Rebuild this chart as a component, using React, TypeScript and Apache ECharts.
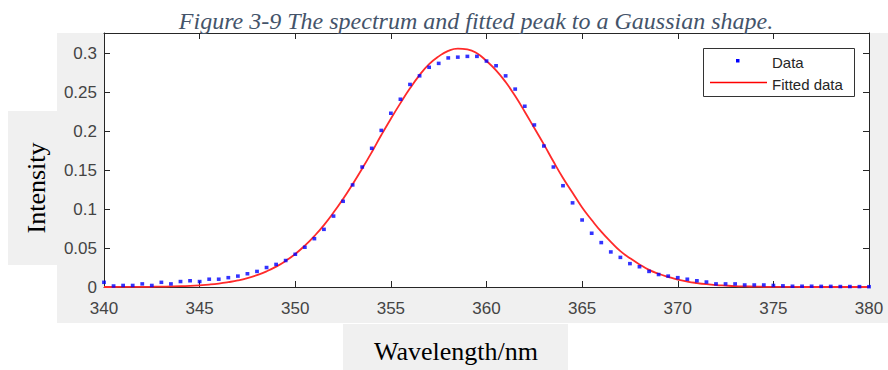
import React, { useEffect, useRef } from "react";
import * as echarts from "echarts";

const wavelengths = [
  340, 340.5, 341, 341.5, 342, 342.5, 343, 343.5, 344, 344.5,
  345, 345.5, 346, 346.5, 347, 347.5, 348, 348.5, 349, 349.5,
  350, 350.5, 351, 351.5, 352, 352.5, 353, 353.5, 354, 354.5,
  355, 355.5, 356, 356.5, 357, 357.5, 358, 358.5, 359, 359.5,
  360, 360.5, 361, 361.5, 362, 362.5, 363, 363.5, 364, 364.5,
  365, 365.5, 366, 366.5, 367, 367.5, 368, 368.5, 369, 369.5,
  370, 370.5, 371, 371.5, 372, 372.5, 373, 373.5, 374, 374.5,
  375, 375.5, 376, 376.5, 377, 377.5, 378, 378.5, 379, 379.5, 380,
];

const measured = [
  0.006, 0.0013, 0.002, 0.002, 0.004, 0.002, 0.006, 0.004, 0.007, 0.008,
  0.007, 0.01, 0.01, 0.012, 0.014, 0.017, 0.02, 0.025, 0.029, 0.034,
  0.042, 0.051, 0.062, 0.074, 0.091, 0.11, 0.131, 0.154, 0.178, 0.201,
  0.223, 0.241, 0.26, 0.271, 0.282, 0.287, 0.294, 0.295, 0.296, 0.296,
  0.29, 0.284, 0.271, 0.254, 0.232, 0.208, 0.181, 0.154, 0.13, 0.108,
  0.086, 0.069, 0.057, 0.045, 0.038, 0.03, 0.026, 0.02, 0.016, 0.014,
  0.012, 0.01, 0.008, 0.0064, 0.004, 0.004, 0.004, 0.0026, 0.0026, 0.0026,
  0.002, 0.0015, 0.001, 0.001, 0.001, 0.0008, 0.0008, 0.0006, 0.0006, 0.0005, 0.0004,
];

const fitted = [
  0.0, 0.0, 0.0001, 0.0001, 0.0002, 0.0003, 0.0005, 0.0007, 0.001, 0.0015,
  0.0022, 0.0031, 0.0044, 0.0062, 0.0084, 0.0114, 0.0153, 0.0201, 0.0261, 0.0335,
  0.0424, 0.053, 0.0654, 0.0795, 0.0955, 0.113, 0.132, 0.152, 0.173, 0.195,
  0.216, 0.236, 0.255, 0.272, 0.286, 0.296, 0.303, 0.306, 0.305, 0.3,
  0.29, 0.278, 0.263, 0.245, 0.225, 0.204, 0.183, 0.161, 0.14, 0.121,
  0.102, 0.086, 0.071, 0.058, 0.046, 0.037, 0.029, 0.022, 0.017, 0.013,
  0.0095, 0.007, 0.0051, 0.0036, 0.0025, 0.0018, 0.0012, 0.0008, 0.0005, 0.0003,
  0.0002, 0.0001, 0.0001, 0.0, 0.0, 0.0, 0.0, 0.0, 0.0, 0.0, 0.0,
];

const TITLE = "Figure 3-9 The spectrum and fitted peak to a Gaussian shape.";
const X_NAME = "Wavelength/nm";
const Y_NAME = "Intensity";
const LEGEND_NAMES = ["Data", "Fitted data"];

const AXIS_COLOR = "#262626";
const LABEL_COLOR = "#444444";
const GRAY = "#f0f0f0";
const SANS = "'Liberation Sans', Arial, Helvetica, sans-serif";
const SERIF = "'Liberation Serif', 'Times New Roman', serif";

export default function App() {
  const ref = useRef<HTMLDivElement>(null);

  useEffect(() => {
    if (!ref.current) return;
    const chart = echarts.init(ref.current, null, { renderer: "svg" });

    const left = 104;
    const top = 33;
    const width = 765;
    const height = 254;

    const xCommon = {
      type: "value",
      min: 340,
      max: 380,
      interval: 5,
      splitLine: { show: false },
      axisLine: { show: true, onZero: false, lineStyle: { color: AXIS_COLOR, width: 1 } },
      axisTick: { show: true, inside: true, length: 6, lineStyle: { color: AXIS_COLOR } },
    };
    const yCommon = {
      type: "value",
      min: 0,
      max: 0.326,
      interval: 0.05,
      splitLine: { show: false },
      axisLine: { show: true, onZero: false, lineStyle: { color: AXIS_COLOR, width: 1 } },
      axisTick: { show: true, inside: true, length: 6, lineStyle: { color: AXIS_COLOR } },
    };

    chart.setOption({
      animation: false,
      backgroundColor: "#ffffff",
      grid: {
        left,
        top,
        width,
        height,
        show: true,
        backgroundColor: "#ffffff",
        borderWidth: 0,
        containLabel: false,
        outerBoundsMode: "none",
      },
      xAxis: [
        {
          ...xCommon,
          position: "bottom",
          axisLabel: {
            show: true,
            margin: 13,
            color: LABEL_COLOR,
            fontSize: 17,
            fontFamily: SANS,
          },
        },
        {
          ...xCommon,
          position: "top",
          axisLabel: { show: false },
        },
      ],
      yAxis: [
        {
          ...yCommon,
          position: "left",
          axisLabel: {
            show: true,
            margin: 7,
            showMaxLabel: false,
            color: LABEL_COLOR,
            fontSize: 17,
            fontFamily: SANS,
          },
        },
        {
          ...yCommon,
          position: "right",
          axisLabel: { show: false },
        },
      ],
      series: [
        {
          name: LEGEND_NAMES[1],
          type: "line",
          data: wavelengths.map((w, i) => [w, fitted[i]]),
          smooth: true,
          showSymbol: false,
          symbol: "none",
          lineStyle: { color: "#ff2a2a", width: 1.8 },
          z: 3,
        },
        {
          name: LEGEND_NAMES[0],
          type: "scatter",
          data: wavelengths.map((w, i) => [w, measured[i]]),
          symbol: "rect",
          symbolSize: [3.8, 3.5],
          itemStyle: { color: "#0000ff" },
          z: 4,
        },
      ],
      graphic: [
        { type: "rect", z: -10, shape: { x: 57, y: 33, width: 47, height: 290 }, style: { fill: GRAY } },
        { type: "rect", z: -10, shape: { x: 57, y: 287, width: 831, height: 36 }, style: { fill: GRAY } },
        { type: "rect", z: -10, shape: { x: 869, y: 33, width: 19, height: 290 }, style: { fill: GRAY } },
        { type: "rect", z: -10, shape: { x: 8, y: 111, width: 49, height: 154 }, style: { fill: GRAY } },
        { type: "rect", z: -10, shape: { x: 343, y: 324, width: 225, height: 46 }, style: { fill: GRAY } },
        {
          type: "text",
          x: 476,
          y: 21,
          z: 20,
          style: {
            text: TITLE,
            fill: "#44546A",
            font: `italic 24px ${SERIF}`,
            textAlign: "center",
            textVerticalAlign: "middle",
          },
        },
        {
          type: "text",
          x: 36,
          y: 188,
          rotation: Math.PI / 2,
          z: 20,
          style: {
            text: Y_NAME,
            fill: "#000000",
            font: `26px ${SERIF}`,
            textAlign: "center",
            textVerticalAlign: "middle",
          },
        },
        {
          type: "text",
          x: 456,
          y: 351,
          z: 20,
          style: {
            text: X_NAME,
            fill: "#000000",
            font: `26px ${SERIF}`,
            textAlign: "center",
            textVerticalAlign: "middle",
          },
        },
        {
          type: "rect",
          z: 20,
          shape: { x: 703.5, y: 48.5, width: 151, height: 48 },
          style: { fill: "#ffffff", stroke: "#333333", lineWidth: 1 },
        },
        {
          type: "rect",
          z: 21,
          shape: { x: 736, y: 59, width: 3.5, height: 3.5 },
          style: { fill: "#0000ff" },
        },
        {
          type: "line",
          z: 21,
          shape: { x1: 710, y1: 82.5, x2: 767, y2: 82.5 },
          style: { stroke: "#ff0000", lineWidth: 1.5 },
        },
        {
          type: "text",
          x: 772,
          y: 62,
          z: 21,
          style: {
            text: LEGEND_NAMES[0],
            fill: "#262626",
            font: `15px ${SANS}`,
            textAlign: "left",
            textVerticalAlign: "middle",
          },
        },
        {
          type: "text",
          x: 772,
          y: 84,
          z: 21,
          style: {
            text: LEGEND_NAMES[1],
            fill: "#262626",
            font: `15px ${SANS}`,
            textAlign: "left",
            textVerticalAlign: "middle",
          },
        },
      ],
    });

    return () => chart.dispose();
  }, []);

  return (
    <div
      ref={ref}
      style={{ position: "absolute", left: 0, top: 0, width: 888, height: 370 }}
    />
  );
}
